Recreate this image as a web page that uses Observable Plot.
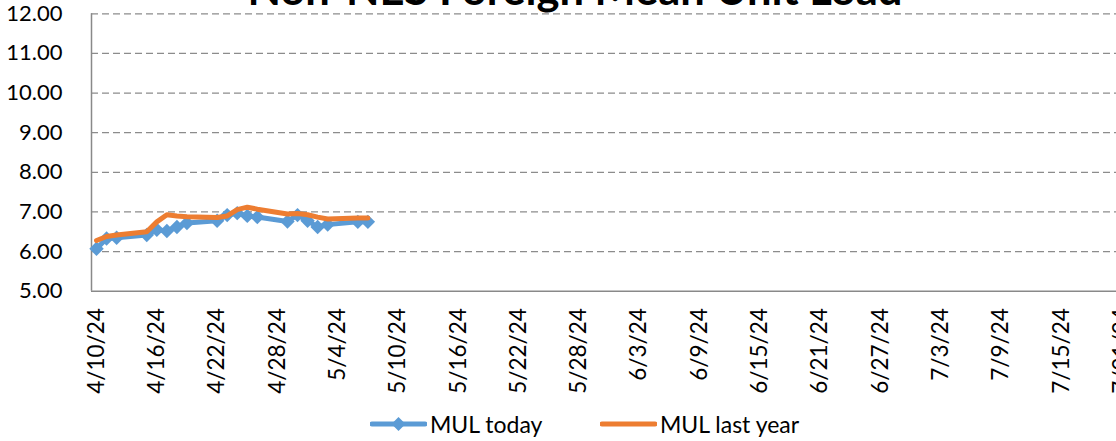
<!DOCTYPE html>
<html>
<head>
<meta charset="utf-8">
<script src="https://cdn.jsdelivr.net/npm/d3@7"></script>
<script src="https://cdn.jsdelivr.net/npm/@observablehq/plot@0.6"></script>
<style>
  html, body { margin: 0; padding: 0; background: #fff; width: 1116px; height: 441px; overflow: hidden; }
  #wrap { position: relative; width: 1116px; height: 441px; overflow: hidden; }
  #title { position: absolute; top: -33px; left: 0; width: 1150px; text-align: center;
           font-family: Lato, sans-serif; font-weight: bold; font-size: 43.5px; line-height: 43.5px; color: #000; white-space: nowrap; }
  #chart { position: absolute; top: 0; left: 0; width: 1160px; }
  #chart svg { max-width: none !important; }
  #legend { position: absolute; top: 400px; left: 0; width: 1116px; height: 41px; font-family: Lato, sans-serif; font-size: 23px; color: #000; }
  .item { position: absolute; top: 3px; height: 41px; display: flex; align-items: center; white-space: nowrap; }
  .item svg { margin-right: 3px; }
</style>
</head>
<body>
<div id="wrap">
  <div id="chart"></div>
  <div id="legend">
    <div class="item" style="left:370px">
      <svg width="57" height="16"><line x1="2" y1="8" x2="55" y2="8" stroke="#5B9BD5" stroke-width="5" stroke-linecap="round"/><path d="M28.5,1L35.5,8L28.5,15L21.5,8Z" fill="#5B9BD5"/></svg>
      <span>MUL today</span>
    </div>
    <div class="item" style="left:600px">
      <svg width="57" height="16"><line x1="2" y1="8" x2="55" y2="8" stroke="#ED7D31" stroke-width="5" stroke-linecap="round"/></svg>
      <span>MUL last year</span>
    </div>
  </div>
  <div id="title">Non-NES Foreign Mean Unit Load</div>
</div>
<script>
// ---- data ----
const dates = ["2024-04-10","2024-04-11","2024-04-12","2024-04-15","2024-04-16","2024-04-17","2024-04-18","2024-04-19",
               "2024-04-22","2024-04-23","2024-04-24","2024-04-25","2024-04-26","2024-04-29","2024-04-30","2024-05-01",
               "2024-05-02","2024-05-03","2024-05-06","2024-05-07"];
const mulToday    = [6.07, 6.33, 6.35, 6.42, 6.55, 6.52, 6.62, 6.72, 6.78, 6.92, 6.97, 6.90, 6.87, 6.76, 6.92, 6.78, 6.62, 6.68, 6.75, 6.75];
const mulLastYear = [6.28, 6.38, 6.42, 6.50, 6.75, 6.93, 6.90, 6.88, 6.86, 6.90, 7.06, 7.12, 7.07, 6.95, 6.96, 6.93, 6.87, 6.82, 6.85, 6.85];
const xTickLabels = ["2024-04-10","2024-04-16","2024-04-22","2024-04-28","2024-05-04","2024-05-10","2024-05-16","2024-05-22",
                     "2024-05-28","2024-06-03","2024-06-09","2024-06-15","2024-06-21","2024-06-27","2024-07-03","2024-07-09",
                     "2024-07-15","2024-07-21"];
const yTicks = [5, 6, 7, 8, 9, 10, 11, 12];

// ---- layout ----
const W = 1160, H = 400, ML = 91, MT = 13.3, MB = 109.3;
const pxPerDay = 10.05;
const DAY = 86400000;
const start = new Date(Date.UTC(2024, 3, 9, 12));
const end = new Date(start.getTime() + (W - ML) / pxPerDay * DAY);

const parse = s => new Date(s + "T00:00:00Z");
const today = dates.map((d, i) => ({date: parse(d), v: mulToday[i]}));
const last = dates.map((d, i) => ({date: parse(d), v: mulLastYear[i]}));
const xt = xTickLabels.map(parse);
const fmt = d => `${d.getUTCMonth() + 1}/${d.getUTCDate()}/${String(d.getUTCFullYear()).slice(2)}`;

const chart = Plot.plot({
  width: W, height: H,
  marginLeft: ML, marginRight: 0, marginTop: MT, marginBottom: MB,
  style: {fontFamily: "Lato, sans-serif", color: "#000", background: "transparent", overflow: "visible", maxWidth: "none"},
  x: {type: "utc", domain: [start, end]},
  y: {domain: [5, 12]},
  marks: [
    Plot.gridY(yTicks.filter(v => v > 5), {stroke: "#8c8c8c", strokeOpacity: 1, strokeWidth: 1.3, strokeDasharray: "7,4"}),
    Plot.ruleY([5], {stroke: "#898989", strokeWidth: 1.5}),
    Plot.ruleX([start], {stroke: "#898989", strokeWidth: 1.5}),
    Plot.axisY(yTicks, {tickSize: 0, tickPadding: 29, tickFormat: d => d.toFixed(2), fontSize: 22, label: null}),
    Plot.axisX(xt, {tickSize: 0, tickPadding: 17, tickRotate: -90, tickFormat: fmt, fontSize: 22.5, label: null}),
    Plot.lineY(today, {x: "date", y: "v", stroke: "#5B9BD5", strokeWidth: 5}),
    Plot.dot(today, {x: "date", y: "v", symbol: "diamond2", r: 6.5, fill: "#5B9BD5", stroke: "none"}),
    Plot.lineY(last, {x: "date", y: "v", stroke: "#ED7D31", strokeWidth: 5})
  ]
});
document.getElementById("chart").appendChild(chart);
</script>
</body>
</html>
